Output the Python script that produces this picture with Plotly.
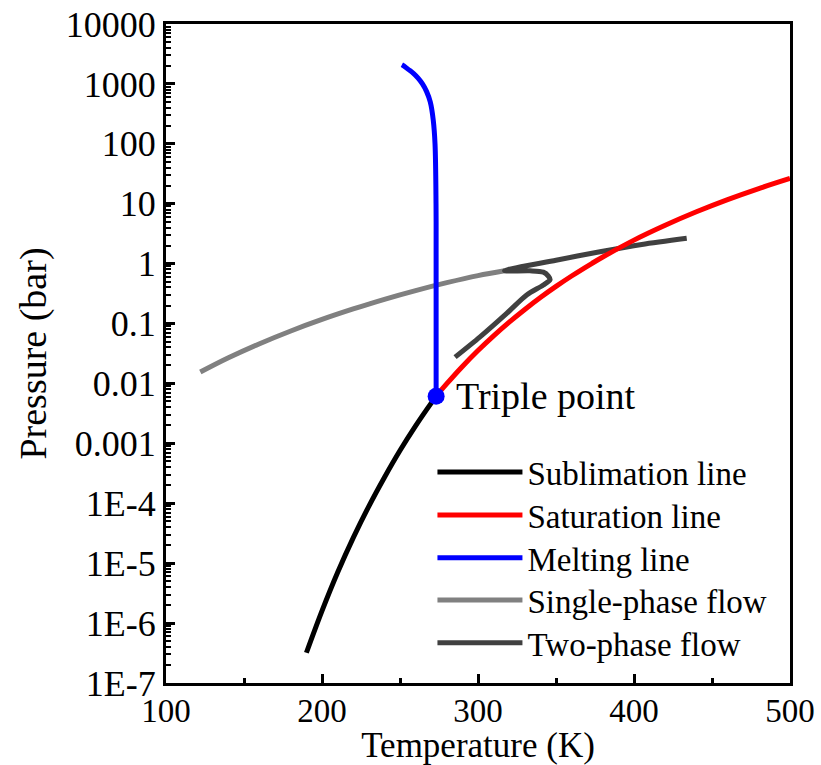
import plotly.graph_objects as go

# Sublimation line (T in K, P in bar)
sub_T = [190, 200, 210, 220, 230, 240, 250, 260, 270, 273.16]
sub_P = [3.2e-7, 1.6e-6, 7.0e-6, 2.65e-5, 8.9e-5, 2.7e-4, 7.6e-4, 1.96e-3, 4.7e-3, 6.1e-3]

# Saturation line
sat_T = [273.16, 280, 290, 300, 310, 320, 330, 340, 350, 360, 373.15, 380, 400, 420, 440, 460, 480, 500]
sat_P = [0.00612, 0.0099, 0.0192, 0.0354, 0.0624, 0.1055, 0.172, 0.2719, 0.4168, 0.6219,
         1.013, 1.29, 2.47, 4.37, 7.33, 11.7, 17.9, 26.4]

# Melting line
melt_T = [273.16, 273.15, 273.09, 272.45, 271.3, 269.4, 267.0, 264.4, 261.6, 258.6, 255.3, 252.4, 251.2]
melt_P = [0.00612, 1, 10, 100, 250, 500, 750, 1000, 1250, 1500, 1750, 2000, 2085]

# Single-phase flow
sp_T = [122, 140, 160, 180, 200, 220, 240, 260, 280, 300, 317]
sp_P = [0.0155, 0.0268, 0.0461, 0.0752, 0.117, 0.175, 0.254, 0.355, 0.481, 0.631, 0.76]

# Two-phase flow
tp_T = [285.3, 301.3, 318.4, 331.2, 341.9, 346.2, 345.1, 341.9, 333.3, 317, 350, 378.2, 405, 433.8]
tp_P = [0.0275, 0.060, 0.148, 0.30, 0.44, 0.54, 0.62, 0.72, 0.76, 0.76, 1.14, 1.58, 2.09, 2.65]

# Triple point
tri_T = [273.16]
tri_P = [0.00612]

x_ticks = [100, 200, 300, 400, 500]
x_minor = [150, 250, 350, 450]
y_ticks = [1e-7, 1e-6, 1e-5, 1e-4, 1e-3, 1e-2, 1e-1, 1, 10, 100, 1000, 10000]
y_ticktext = ["1E-7", "1E-6", "1E-5", "1E-4", "0.001", "0.01", "0.1", "1", "10", "100", "1000", "10000"]
y_minor = [m * 10 ** e for e in range(-7, 4) for m in range(2, 10)]

FONT = "Liberation Serif, Times New Roman, serif"
LW = 5

legend_rows = [0.320, 0.255, 0.190, 0.126, 0.061]

fig = go.Figure()
fig.add_trace(go.Scatter(x=sp_T, y=sp_P, mode="lines", name="Single-phase flow",
                         line=dict(color="#808080", width=LW, shape="spline"),
                         legend="legend4"))
fig.add_trace(go.Scatter(x=tp_T, y=tp_P, mode="lines", name="Two-phase flow",
                         line=dict(color="#404040", width=LW, shape="spline", smoothing=0.8),
                         legend="legend5"))
fig.add_trace(go.Scatter(x=sub_T, y=sub_P, mode="lines", name="Sublimation line",
                         line=dict(color="black", width=LW, shape="spline"),
                         legend="legend"))
fig.add_trace(go.Scatter(x=sat_T, y=sat_P, mode="lines", name="Saturation line",
                         line=dict(color="#ff0000", width=LW, shape="spline"),
                         legend="legend2"))
fig.add_trace(go.Scatter(x=melt_T, y=melt_P, mode="lines", name="Melting line",
                         line=dict(color="#0000ff", width=LW, shape="spline"),
                         legend="legend3"))
fig.add_trace(go.Scatter(x=tri_T, y=tri_P, mode="markers", name="Triple point",
                         marker=dict(color="#0000ff", size=17), showlegend=False))

fig.add_annotation(x=tri_T[0], y=-2.21, xref="x", yref="y", text="Triple point",
                   showarrow=False, xanchor="left", yanchor="middle", xshift=18,
                   font=dict(family=FONT, size=38, color="black"))

axis_common = dict(showgrid=False, zeroline=False, showline=True, linecolor="black",
                   linewidth=3, mirror=True, ticks="inside", tickcolor="black",
                   tickwidth=2.5, ticklen=9, automargin=False)

fig.update_xaxes(range=[100, 500], tickvals=x_ticks,
                 tickfont=dict(family=FONT, size=33, color="black"),
                 ticklabelstandoff=-4,
                 minor=dict(tickvals=x_minor, ticks="inside", ticklen=5, tickwidth=2.5,
                            tickcolor="black", showgrid=False),
                 title=dict(text="Temperature (K)", font=dict(family=FONT, size=35, color="black"),
                            standoff=6),
                 **axis_common)
fig.update_yaxes(type="log", range=[-7, 4], tickvals=y_ticks, ticktext=y_ticktext,
                 tickfont=dict(family=FONT, size=36, color="black"),
                 minor=dict(tickvals=y_minor, ticks="inside", ticklen=5, tickwidth=2,
                            tickcolor="black", showgrid=False),
                 title=dict(text="Pressure (bar)", font=dict(family=FONT, size=38, color="black"),
                            standoff=8),
                 **axis_common)

legend_style = dict(x=0.427, xanchor="left", yanchor="middle",
                    bgcolor="rgba(0,0,0,0)", borderwidth=0,
                    font=dict(family=FONT, size=33, color="black"),
                    itemwidth=85)
legend_keys = ["legend", "legend2", "legend3", "legend4", "legend5"]

fig.update_layout(
    width=821, height=765,
    margin=dict(l=166, r=31, t=24, b=82),
    plot_bgcolor="white", paper_bgcolor="white",
    font=dict(family=FONT, color="black"),
    **{k: dict(y=yv, **legend_style) for k, yv in zip(legend_keys, legend_rows)},
)

fig.write_html("out.html")
